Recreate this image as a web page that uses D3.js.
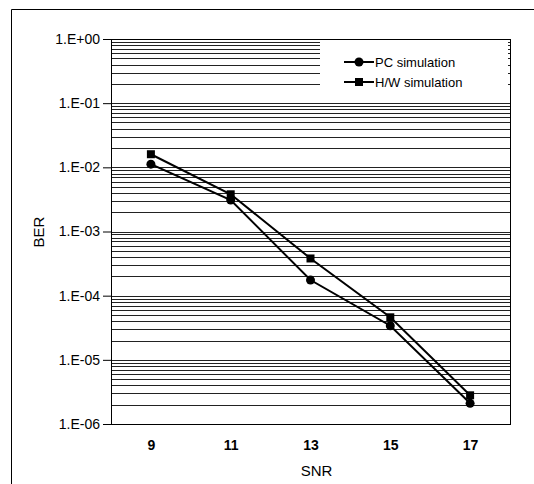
<!DOCTYPE html>
<html>
<head>
<meta charset="utf-8">
<script src="https://cdn.jsdelivr.net/npm/d3@7"></script>
<style>
  body { margin: 0; background: #fff; }
  text { font-family: "Liberation Sans", Arial, sans-serif; fill: #000; }
</style>
</head>
<body>
<svg id="chart" width="534" height="484"></svg>
<script>
// chart values
const snr = [9, 11, 13, 15, 17];
const pcSim = [1.12e-2, 3.1e-3, 1.75e-4, 3.4e-5, 2.1e-6];
const hwSim = [1.6e-2, 3.8e-3, 3.8e-4, 4.6e-5, 2.8e-6];
const yTickLabels = ['1.E+00', '1.E-01', '1.E-02', '1.E-03', '1.E-04', '1.E-05', '1.E-06'];
const yTickValues = [1, 1e-1, 1e-2, 1e-3, 1e-4, 1e-5, 1e-6];

const svg = d3.select('#chart');
const margin = { top: 39, right: 24, bottom: 60, left: 111 };
const width = 534, height = 484;
const innerWidth = width - margin.left - margin.right;
const innerHeight = height - margin.top - margin.bottom;

// outer frame (only top/left visible in the crop)
svg.append('path')
  .attr('d', `M11.5,${height} V9.5 H${width}`)
  .attr('fill', 'none')
  .attr('stroke', '#000');

const g = svg.append('g')
  .attr('transform', `translate(${margin.left}, ${margin.top})`);

const xScale = d3.scalePoint()
  .domain(snr)
  .range([0, innerWidth])
  .padding(0.5);

const yScale = d3.scaleLog()
  .domain([1e-6, 1])
  .range([innerHeight, 0]);

// minor + major gridlines
const gridValues = [];
for (let e = -6; e < 0; e++) {
  for (let m = 1; m <= 9; m++) gridValues.push(m * Math.pow(10, e));
}
gridValues.push(1);

g.selectAll('.grid')
  .data(gridValues)
  .enter()
  .append('line')
  .attr('class', 'grid')
  .attr('x1', 0)
  .attr('x2', innerWidth)
  .attr('y1', d => Math.round(yScale(d)) + 0.5)
  .attr('y2', d => Math.round(yScale(d)) + 0.5)
  .attr('stroke', '#222')
  .attr('stroke-width', 1);

// legend background blocks the grid behind it
const legend = g.append('g')
  .attr('transform', `translate(${innerWidth - 190}, 2)`);

legend.append('rect')
  .attr('x', 0).attr('y', 0)
  .attr('width', 188).attr('height', 59)
  .attr('fill', '#fff');

// plot border
g.append('rect')
  .attr('x', 0.5).attr('y', 0.5)
  .attr('width', innerWidth).attr('height', innerHeight)
  .attr('fill', 'none')
  .attr('stroke', '#000');

// y axis
const yAxis = d3.axisLeft(yScale)
  .tickValues(yTickValues)
  .tickFormat((d, i) => yTickLabels[i])
  .tickSize(8)
  .tickPadding(3);

g.append('g')
  .attr('class', 'y-axis')
  .call(yAxis)
  .call(ax => ax.select('.domain').remove())
  .call(ax => ax.selectAll('line').attr('stroke', '#000'))
  .selectAll('text')
  .attr('font-size', '14px');

// x axis labels
const xAxis = d3.axisBottom(xScale).tickSize(0).tickPadding(16);
g.append('g')
  .attr('transform', `translate(0, ${innerHeight})`)
  .call(xAxis)
  .call(ax => ax.select('.domain').remove())
  .selectAll('text')
  .attr('font-size', '14px')
  .attr('font-weight', 'bold');

// axis titles
g.append('text')
  .attr('x', innerWidth / 2 + 6)
  .attr('y', innerHeight + 52)
  .attr('text-anchor', 'middle')
  .attr('font-size', '15px')
  .text('SNR');

g.append('text')
  .attr('transform', 'rotate(-90)')
  .attr('x', -(232 - margin.top))
  .attr('y', 38 - margin.left + 6)
  .attr('text-anchor', 'middle')
  .attr('font-size', '15px')
  .text('BER');

// series
const series = [
  { name: 'PC simulation', values: pcSim, marker: 'circle' },
  { name: 'H/W simulation', values: hwSim, marker: 'square' }
];

const line = d3.line()
  .x((d, i) => xScale(snr[i]))
  .y(d => yScale(d));

const drawMarker = (sel, type) => {
  if (type === 'circle') {
    sel.append('circle').attr('r', 4.5).attr('fill', '#000');
  } else {
    sel.append('rect')
      .attr('x', -4).attr('y', -4)
      .attr('width', 8).attr('height', 8)
      .attr('fill', '#000');
  }
};

series.forEach(s => {
  g.append('path')
    .datum(s.values)
    .attr('d', line)
    .attr('fill', 'none')
    .attr('stroke', '#000')
    .attr('stroke-width', 2);

  s.values.forEach((v, i) => {
    const m = g.append('g')
      .attr('transform', `translate(${xScale(snr[i])}, ${yScale(v)})`);
    drawMarker(m, s.marker);
  });
});

// legend items
series.forEach((s, i) => {
  const item = legend.append('g')
    .attr('transform', `translate(24, ${21 + i * 20})`);
  item.append('line')
    .attr('x1', 0).attr('x2', 30)
    .attr('stroke', '#000')
    .attr('stroke-width', 2);
  const m = item.append('g').attr('transform', 'translate(15, 0)');
  drawMarker(m, s.marker);
  item.append('text')
    .attr('x', 31)
    .attr('y', 5)
    .attr('font-size', '13px')
    .text(s.name);
});
</script>
</body>
</html>
